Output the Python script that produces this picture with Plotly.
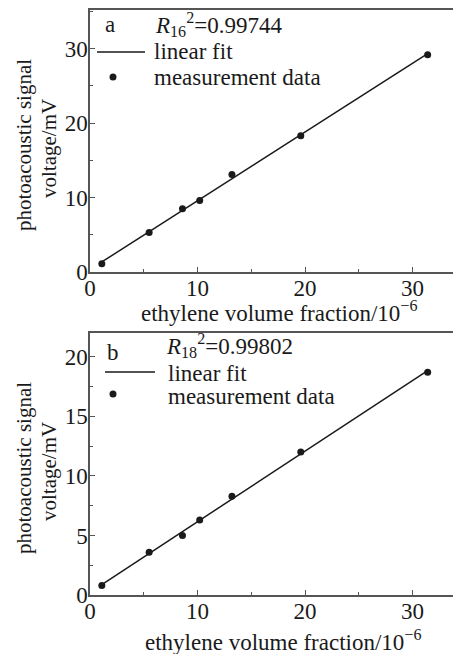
import numpy as np
import plotly.graph_objects as go

# ---- data ----
x_a = [1.1, 5.5, 8.6, 10.2, 13.2, 19.6, 31.4]
y_a = [1.1, 5.3, 8.5, 9.6, 13.1, 18.3, 29.2]
x_b = [1.1, 5.5, 8.6, 10.2, 13.2, 19.6, 31.4]
y_b = [0.8, 3.6, 5.0, 6.3, 8.3, 12.0, 18.7]
r2_a = "0.99744"
r2_b = "0.99802"
x_title = "ethylene volume fraction/10<sup>−6</sup>"
y_title_1 = "photoacoustic signal"
y_title_2 = "voltage/mV"

W, H = 461, 654
OX, OY = 8, 8  # page body offset
FONT = "Liberation Serif"
INK = "#1a1a1a"
AX = "#555555"

def px(xp):
    return (xp - OX) / W

def py(yp):
    return 1 - (yp - OY) / H

fig = go.Figure()

def fit_line(xs, ys):
    k, b = np.polyfit(xs, ys, 1)
    xl = np.array([min(xs), max(xs)])
    return xl, k * xl + b

for xs, ys, xa, ya in [(x_a, y_a, "x", "y"), (x_b, y_b, "x2", "y2")]:
    xl, yl = fit_line(xs, ys)
    fig.add_trace(go.Scatter(x=xl, y=yl, mode="lines", xaxis=xa, yaxis=ya,
                             line=dict(color=INK, width=1.5), showlegend=False))
    fig.add_trace(go.Scatter(x=xs, y=ys, mode="markers", xaxis=xa, yaxis=ya,
                             marker=dict(color=INK, size=7), showlegend=False))

tickfont = dict(family=FONT, size=23, color=INK)

def xaxis_cfg(anchor):
    return dict(range=[0, 34.5], domain=[px(90), px(461)], anchor=anchor,
                tickmode="linear", tick0=0, dtick=10, ticks="inside", ticklen=5,
                tickwidth=1.2, tickcolor=AX,
                minor=dict(dtick=5, tick0=0, ticks="inside", ticklen=3, tickcolor=AX, tickwidth=1),
                showline=True, linecolor=AX, linewidth=1.5, mirror=True,
                showgrid=False, zeroline=False, tickfont=tickfont, automargin=False,
                ticklabelstandoff=-5)

def yaxis_cfg(rng, dtick, mdtick, dom, xa):
    return dict(range=rng, domain=dom, anchor=xa,
                tickmode="linear", tick0=0, dtick=dtick, ticks="inside", ticklen=5,
                tickwidth=1.2, tickcolor=AX,
                minor=dict(dtick=mdtick, tick0=0, ticks="inside", ticklen=3, tickcolor=AX, tickwidth=1),
                showline=True, linecolor=AX, linewidth=1.5, mirror=False,
                showgrid=False, zeroline=False, tickfont=tickfont, automargin=False,
                ticklabelstandoff=-4)

fig.update_layout(
    width=W, height=H, margin=dict(l=0, r=0, t=0, b=0),
    paper_bgcolor="white", plot_bgcolor="white",
    font=dict(family=FONT, color=INK),
    xaxis=xaxis_cfg("y"),
    yaxis=yaxis_cfg([0, 35.2], 10, 5, [py(272), py(10)], "x"),
    xaxis2=xaxis_cfg("y2"),
    yaxis2=yaxis_cfg([0, 22.0], 5, 2.5, [py(595), py(333)], "x2"),
    showlegend=False,
)

ann = []
shapes = []

def panel_labels(letter, sub, r2, x_letter, y_letter, x_r, y_r, x_line0, x_line1, y_line,
                 x_txt, y_txt1, x_dot, y_dot, y_txt2, ytitle_cy, xtitle_cx, xtitle_cy):
    lf = dict(family=FONT, size=23, color=INK)
    ann.append(dict(x=px(x_letter), y=py(y_letter), xref="paper", yref="paper", text=letter,
                    showarrow=False, xanchor="center", yanchor="middle", font=lf))
    ann.append(dict(x=px(x_r), y=py(y_r), xref="paper", yref="paper",
                    text=f"<i>R</i><sub>{sub}</sub><sup>2</sup>={r2}",
                    showarrow=False, xanchor="left", yanchor="middle", font=lf))
    shapes.append(dict(type="line", xref="paper", yref="paper", x0=px(x_line0), x1=px(x_line1),
                       y0=py(y_line), y1=py(y_line), line=dict(color=INK, width=1.5)))
    ann.append(dict(x=px(x_txt), y=py(y_txt1), xref="paper", yref="paper", text="linear fit",
                    showarrow=False, xanchor="left", yanchor="middle", font=lf))
    shapes.append(dict(type="circle", xref="paper", yref="paper", xsizemode="pixel", ysizemode="pixel",
                       xanchor=px(x_dot), yanchor=py(y_dot), x0=-3.5, x1=3.5, y0=-3.5, y1=3.5,
                       fillcolor=INK, line=dict(width=0)))
    ann.append(dict(x=px(x_txt), y=py(y_txt2), xref="paper", yref="paper", text="measurement data",
                    showarrow=False, xanchor="left", yanchor="middle", font=lf))
    tf = dict(family=FONT, size=21, color=INK)
    ann.append(dict(x=px(24), y=py(ytitle_cy), xref="paper", yref="paper", text=y_title_1,
                    textangle=-90, showarrow=False, xanchor="center", yanchor="middle", font=tf))
    ann.append(dict(x=px(49), y=py(ytitle_cy + 4), xref="paper", yref="paper", text=y_title_2,
                    textangle=-90, showarrow=False, xanchor="center", yanchor="middle", font=tf))
    ann.append(dict(x=px(xtitle_cx), y=py(xtitle_cy), xref="paper", yref="paper", text=x_title,
                    showarrow=False, xanchor="center", yanchor="middle",
                    font=dict(family=FONT, size=23, color=INK)))

panel_labels("a", "16", r2_a, 110, 24, 153, 25, 97, 145, 52, 152, 52, 113, 77, 77, 145, 279, 311)
panel_labels("b", "18", r2_b, 113, 353, 164, 345, 105, 155, 372, 166, 373, 113, 394, 396, 468, 283, 640)

fig.update_layout(annotations=ann, shapes=shapes)
fig.write_html("out.html")
